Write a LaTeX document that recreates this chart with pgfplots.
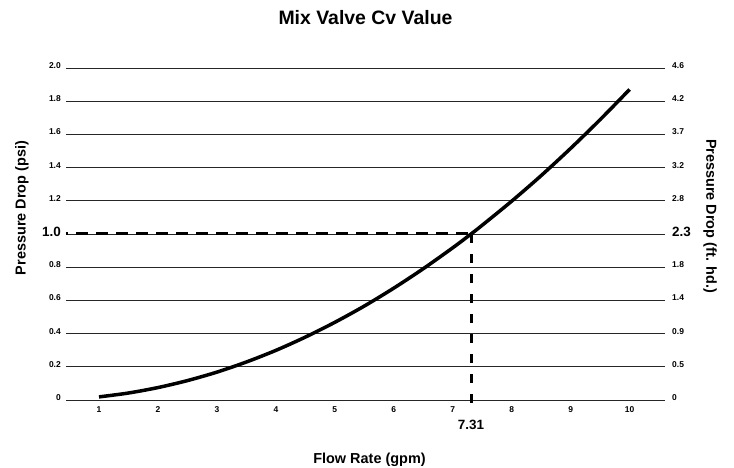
\documentclass[border=0pt]{standalone}
\usepackage{fontspec}
\setmainfont{Liberation Sans}
\usepackage{pgfplots}
\pgfplotsset{compat=1.18}
\begin{document}
\begin{tikzpicture}
\begin{axis}[name=ax, scale only axis, width=599bp, height=332bp,
  xmin=0.44, xmax=10.6, ymin=0, ymax=2,
  axis line style={draw=none}, major tick length=0, clip=false,
  xtick={1,2,3,4,5,6,7,8,9,10},
  xticklabels={1,2,3,4,5,6,7,8,9,10},
  ytick={0,0.2,0.4,0.6,0.8,1.0,1.2,1.4,1.6,1.8,2.0},
  yticklabels={0,0.2,0.4,0.6,0.8,{\fontsize{13.5}{13.5}\selectfont 1.0},1.2,1.4,1.6,1.8,2.0},
  ymajorgrids, grid style={black!85, line width=0.9bp},
  ticklabel style={font=\fontsize{8.5}{8.5}\selectfont\bfseries, inner sep=0pt},
  yticklabel style={xshift=-5bp, yshift=2.5bp},
  xticklabel style={yshift=-6bp},
]
\addplot[black, line width=3bp, dash pattern=on 12bp off 8bp, dash phase=10bp] coordinates {(0.44,1) (7.31,1)};
\addplot[black, line width=3bp, dash pattern=on 9bp off 11bp] coordinates {(7.31,1) (7.31,-0.045)};
\addplot[black, line width=3.5bp, smooth] coordinates {
(1,0.0187) (1.5,0.0421) (2,0.0749) (2.5,0.117) (3,0.168) (3.5,0.229) (4,0.299)
(4.5,0.379) (5,0.468) (5.5,0.566) (6,0.674) (6.5,0.791) (7,0.917) (7.31,1.0)
(7.5,1.053) (8,1.198) (8.5,1.352) (9,1.516) (9.5,1.689) (10,1.871)};
\node[font=\fontsize{13.5}{13.5}\selectfont\bfseries] at ([yshift=-25bp]axis cs:7.31,0) {7.31};
\node[font=\fontsize{19.5}{19.5}\selectfont\bfseries] at ([yshift=50bp]rel axis cs:0.5,1) {Mix Valve Cv Value};
\node[font=\fontsize{14.5}{14.5}\selectfont\bfseries] at ([shift={(4bp,-60bp)}]rel axis cs:0.5,0) {Flow Rate (gpm)};
\node[font=\fontsize{14.5}{14.5}\selectfont\bfseries, rotate=90] at ([shift={(-44bp,192bp)}]rel axis cs:0,0) {Pressure Drop (psi)};
\node[font=\fontsize{14.5}{14.5}\selectfont\bfseries, rotate=-90] at ([shift={(45bp,184bp)}]rel axis cs:1,0) {Pressure Drop (ft. hd.)};
\end{axis}
\begin{axis}[at={(ax.south west)}, anchor=south west, scale only axis, width=599bp, height=332bp,
  xmin=0.44, xmax=10.6, ymin=0, ymax=2,
  hide x axis, axis line style={draw=none}, major tick length=0,
  yticklabel pos=right,
  ytick={0,0.2,0.4,0.6,0.8,1.0,1.2,1.4,1.6,1.8,2.0},
  yticklabels={0,0.5,0.9,1.4,1.8,{\fontsize{13.5}{13.5}\selectfont 2.3},2.8,3.2,3.7,4.2,4.6},
  ticklabel style={font=\fontsize{8.5}{8.5}\selectfont\bfseries, inner sep=0pt},
  yticklabel style={xshift=7bp, yshift=2.5bp},
]
\end{axis}
\pgfresetboundingbox
\path[use as bounding box] ([shift={(-66bp,-68bp)}]ax.south west) rectangle ([shift={(69bp,68bp)}]ax.north east);
\end{tikzpicture}
\end{document}
